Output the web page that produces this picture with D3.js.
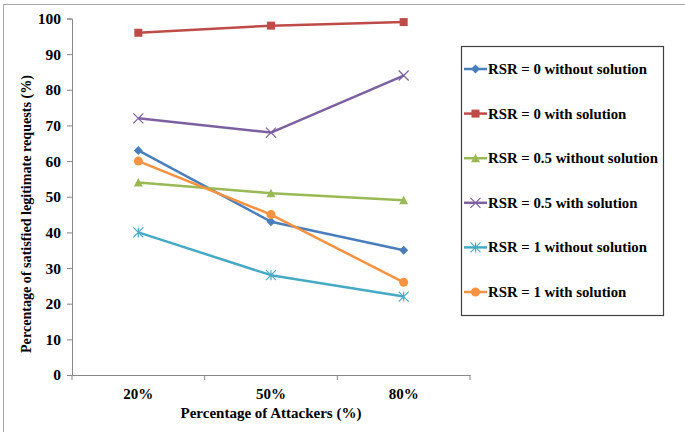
<!DOCTYPE html>
<html>
<head>
<meta charset="utf-8">
<script src="https://cdn.jsdelivr.net/npm/d3@7"></script>
<style>
  body { margin: 0; background: #fff; }
  text { font-family: "Liberation Serif", "Times New Roman", serif; font-weight: bold; fill: #000; }
</style>
</head>
<body>
<svg id="chart" width="685" height="432"></svg>
<script>
const categories = ["20%", "50%", "80%"];
const seriesNames = [
  "RSR = 0 without solution",
  "RSR = 0 with solution",
  "RSR = 0.5 without solution",
  "RSR = 0.5 with solution",
  "RSR = 1 without solution",
  "RSR = 1 with solution"
];
const rsr0Without = [63, 43, 35];
const rsr0With = [96, 98, 99];
const rsr05Without = [54, 51, 49];
const rsr05With = [72, 68, 84];
const rsr1Without = [40, 28, 22];
const rsr1With = [60, 45, 26];
const yTicks = [0, 10, 20, 30, 40, 50, 60, 70, 80, 90, 100];

const colors = ["#4A7EBB", "#BE4B48", "#98B954", "#7D60A0", "#46AAC5", "#F69240"];
const markers = ["diamond", "square", "triangle", "cross", "star", "circle"];
const allValues = [rsr0Without, rsr0With, rsr05Without, rsr05With, rsr1Without, rsr1With];

const series = seriesNames.map((name, i) => ({
  name: name, values: allValues[i], color: colors[i], marker: markers[i]
}));

const svg = d3.select("#chart");

// outer frame
svg.append("rect")
  .attr("x", 3.5).attr("y", 4.5)
  .attr("width", 720).attr("height", 440)
  .attr("fill", "none").attr("stroke", "#a6a6a6").attr("stroke-width", 1);

const plotLeft = 72, plotRight = 470, plotTop = 18.5, plotBottom = 375;

const x = d3.scaleBand().domain(categories).range([plotLeft, plotRight]);
const y = d3.scaleLinear().domain([0, 100]).range([plotBottom, plotTop]);

// y axis
const yAxis = svg.append("g")
  .attr("transform", `translate(${plotLeft},0)`)
  .call(d3.axisLeft(y).tickValues(yTicks).tickSize(5).tickPadding(6));
yAxis.select(".domain").attr("stroke", "#888");
yAxis.selectAll(".tick line").attr("stroke", "#888");
yAxis.selectAll(".tick text").style("font-size", "15.5px").attr("fill", "#000");

// x axis
const xAxis = svg.append("g")
  .attr("transform", `translate(0,${plotBottom})`)
  .call(d3.axisBottom(x).tickSize(0).tickPadding(13).tickSizeOuter(0));
xAxis.select(".domain").attr("stroke", "#888");
xAxis.selectAll(".tick text").style("font-size", "15px").attr("fill", "#000");
xAxis.selectAll(".sep")
  .data([plotLeft].concat(categories.map(c => x(c) + x.bandwidth())))
  .join("line")
  .attr("class", "sep")
  .attr("x1", d => d).attr("x2", d => d)
  .attr("y1", 0).attr("y2", 5)
  .attr("stroke", "#888");

// axis titles
svg.append("text")
  .attr("x", 271).attr("y", 418)
  .attr("text-anchor", "middle")
  .style("font-size", "15px")
  .text("Percentage of Attackers (%)");

svg.append("text")
  .attr("transform", "translate(31,214) rotate(-90)")
  .attr("text-anchor", "middle")
  .style("font-size", "14.5px")
  .attr("textLength", 278)
  .attr("lengthAdjust", "spacingAndGlyphs")
  .text("Percentage of satisfied legitimate requests (%)");

function drawMarker(g, type, color) {
  if (type === "diamond") {
    g.append("path").attr("d", "M0,-4.5L4.5,0L0,4.5L-4.5,0Z").attr("fill", color);
  } else if (type === "square") {
    g.append("rect").attr("x", -4).attr("y", -4).attr("width", 8).attr("height", 8).attr("fill", color);
  } else if (type === "triangle") {
    g.append("path").attr("d", "M0,-4.5L4.5,4L-4.5,4Z").attr("fill", color);
  } else if (type === "cross") {
    g.append("path").attr("d", "M-5,-5L5,5M-5,5L5,-5").attr("stroke", color).attr("stroke-width", 1.2).attr("fill", "none");
  } else if (type === "star") {
    g.append("path").attr("d", "M-5,-5L5,5M-5,5L5,-5M0,-5L0,5").attr("stroke", color).attr("stroke-width", 1.2).attr("fill", "none");
  } else {
    g.append("circle").attr("r", 4.5).attr("fill", color);
  }
}

const line = d3.line()
  .x((d, i) => x(categories[i]) + x.bandwidth() / 2)
  .y(d => y(d));

series.forEach(s => {
  svg.append("path")
    .datum(s.values)
    .attr("d", line)
    .attr("fill", "none")
    .attr("stroke", s.color)
    .attr("stroke-width", 2.5)
    .attr("stroke-linejoin", "round");
  s.values.forEach((v, i) => {
    const g = svg.append("g")
      .attr("transform", `translate(${x(categories[i]) + x.bandwidth() / 2},${y(v)})`);
    drawMarker(g, s.marker, s.color);
  });
});

// legend
svg.append("rect")
  .attr("x", 461.5).attr("y", 46.5)
  .attr("width", 202).attr("height", 269)
  .attr("fill", "#fff").attr("stroke", "#404040").attr("stroke-width", 1.2);

const legendY = d3.scalePoint().domain(seriesNames).range([69, 292]);

series.forEach(s => {
  const g = svg.append("g").attr("transform", `translate(0,${legendY(s.name)})`);
  g.append("line")
    .attr("x1", 464).attr("x2", 487)
    .attr("stroke", s.color).attr("stroke-width", 2.5);
  const m = g.append("g").attr("transform", "translate(475.5,0)");
  drawMarker(m, s.marker, s.color);
  g.append("text")
    .attr("x", 488).attr("y", 5)
    .style("font-size", "14.8px")
    .text(s.name);
});
</script>
</body>
</html>
